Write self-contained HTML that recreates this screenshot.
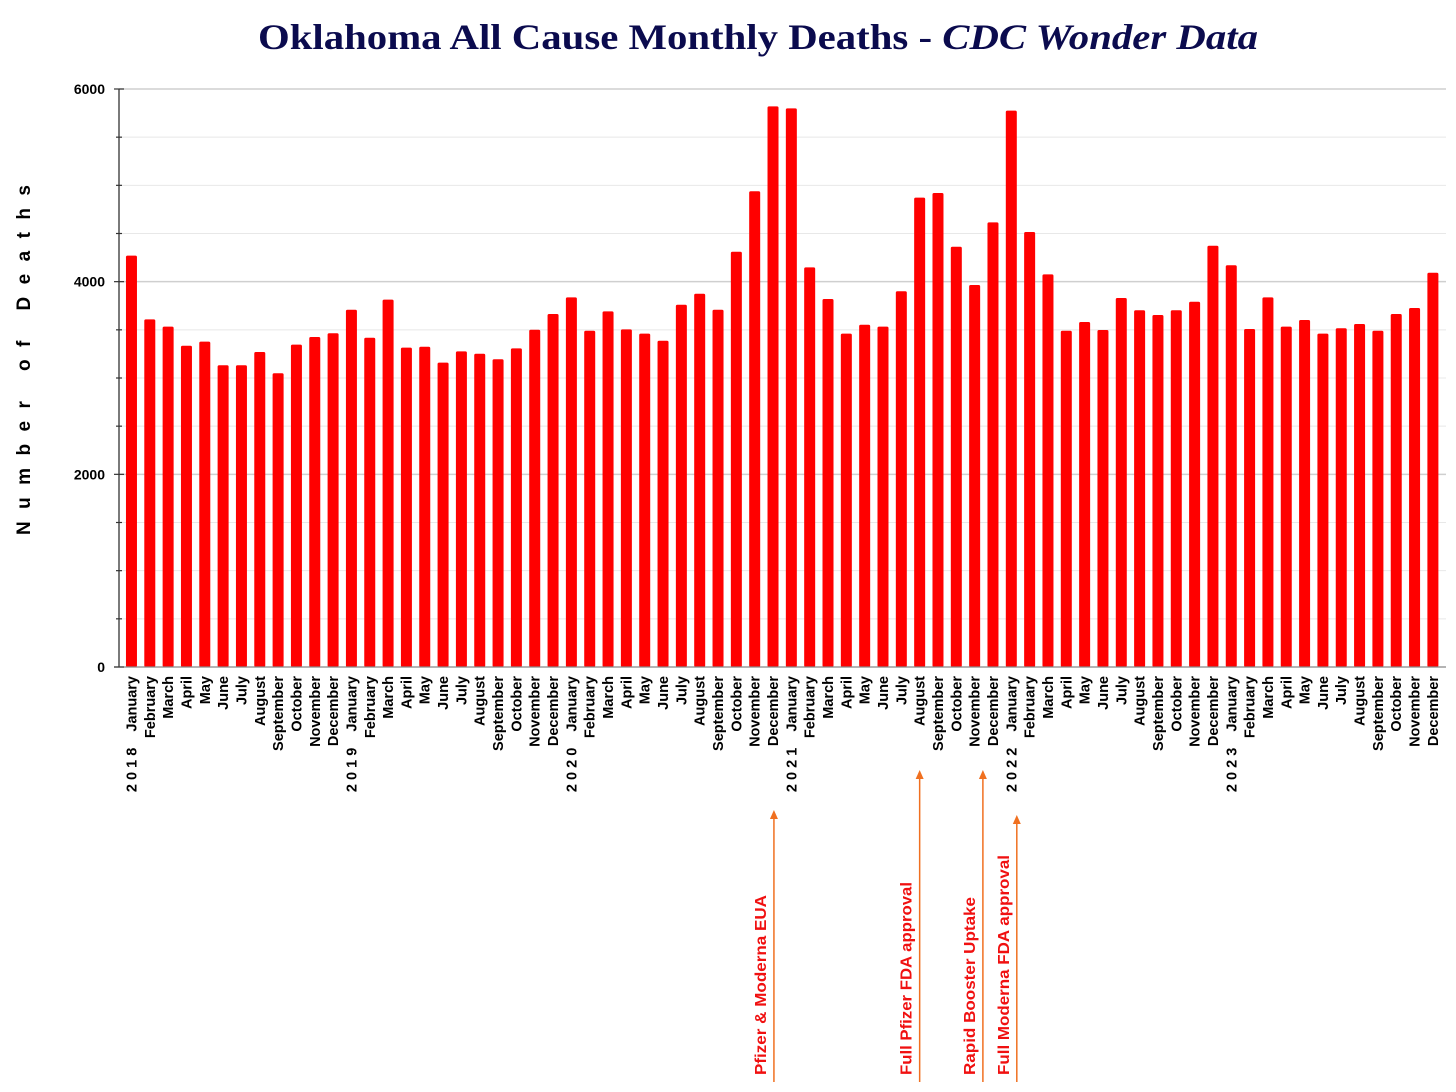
<!DOCTYPE html>
<html><head><meta charset="utf-8"><style>
html,body{margin:0;padding:0;background:#fff;}
svg{display:block;font-family:"Liberation Sans",Arial,sans-serif;}
</style></head><body>
<svg id="chart" width="1456" height="1092" viewBox="0 0 1456 1092" xmlns="http://www.w3.org/2000/svg">
<text x="258" y="49" textLength="1000" lengthAdjust="spacingAndGlyphs" font-family="'Liberation Serif',Georgia,serif" font-weight="bold" font-size="36" fill="#0b0b4e">Oklahoma All Cause Monthly Deaths - <tspan font-style="italic">CDC Wonder Data</tspan></text>
<text transform="translate(30,360) rotate(-90)" text-anchor="middle" font-weight="bold" font-size="19" textLength="350" lengthAdjust="spacing" fill="#000" style="white-space:pre">N u m b e r   o f   D e a t h s</text>
<g id="grid"></g>
<g id="bars"></g>
<g id="axes"></g>
<g id="xlabels"></g>
<g id="annots"></g>
</svg>
<script>
const months = ["January","February","March","April","May","June","July","August","September","October","November","December"];
const years = ["2018","2019","2020","2021","2022","2023"];
const deaths = [
4270,3609,3533,3335,3377,3132,3132,3270,3049,3346,3425,3464,
3709,3418,3813,3315,3325,3159,3277,3252,3194,3308,3501,3664,
3837,3491,3692,3505,3460,3387,3761,3875,3709,4311,4938,5820,
5799,4149,3820,3460,3553,3533,3900,4872,4920,4363,3965,4616,
5775,4515,4076,3491,3581,3498,3830,3703,3654,3703,3792,4373,
4170,3509,3837,3533,3602,3460,3516,3560,3491,3664,3726,4093];
const yTicks = [0,2000,4000,6000];
const annotLabels = ["Pfizer & Moderna EUA","Full Pfizer FDA approval","Rapid Booster Uptake","Full Moderna FDA approval"];
const annotIndex = [35.05,43.0,46.45,48.3];
const annotTop = [810,770,770,815];
const annotTextTop = [895,882,897,855];

const NS="http://www.w3.org/2000/svg";
const X0=122.3, SLOT=18.33, Y0=667, YMAX=6000, H=578;
const xc=i=>X0+(i+0.5)*SLOT;
const y=v=>Y0-v/YMAX*H;
function mk(tag,attrs,parent){const e=document.createElementNS(NS,tag);for(const k in attrs)e.setAttribute(k,attrs[k]);parent.appendChild(e);return e;}
const grid=document.getElementById('grid'),bars=document.getElementById('bars'),axes=document.getElementById('axes'),xl=document.getElementById('xlabels'),an=document.getElementById('annots');
for(let v=500;v<=YMAX;v+=500){
  const major=v%2000===0;
  const g=mk('line',{x1:119,x2:1446,y1:y(v),y2:y(v),stroke:major?'#cfcfcf':'#e8e8e8','stroke-width':major?1.5:1},grid);
  
  
}
deaths.forEach((d,i)=>{
  const r=mk('rect',{x:xc(i)-5.5,y:y(d),width:11,height:Y0-y(d),rx:1.5,fill:'#ff0000'},bars);
  
  
  const label=(i%12===0?years[i/12].split('').join(' ')+'    ':'')+months[i%12];
  const t=mk('text',{transform:`translate(${xc(i)+5},676) rotate(-90)`,'text-anchor':'end','font-size':14.5,'font-weight':'bold',fill:'#000'},xl);
  t.style.whiteSpace='pre';
  t.textContent=label;
  
  
});
const ax=mk('line',{x1:119,x2:119,y1:y(YMAX),y2:Y0,stroke:'#333','stroke-width':1.3},axes);


const bx=mk('line',{x1:114,x2:1446,y1:Y0,y2:Y0,stroke:'#888','stroke-width':1.3},axes);


for(let v=0;v<=YMAX;v+=500){
  const major=v%2000===0;
  const tk=mk('line',{x1:major?114:116,x2:major?124:122,y1:y(v),y2:y(v),stroke:'#333','stroke-width':1.2},axes);
  
  
}
yTicks.forEach(v=>{
  const t=mk('text',{x:105,y:y(v)+5,'text-anchor':'end','font-size':14,'font-weight':'bold',fill:'#000'},axes);
  t.textContent=v;
  
  
});
annotLabels.forEach((lab,k)=>{
  const ax_=xc(annotIndex[k]);
  const l=mk('line',{x1:ax_,x2:ax_,y1:1082,y2:annotTop[k]+8,stroke:'#f07020','stroke-width':1.5},an);
  
  
  const p=mk('polygon',{points:`${ax_},${annotTop[k]} ${ax_-4},${annotTop[k]+9} ${ax_+4},${annotTop[k]+9}`,fill:'#f07020'},an);
  
  
  const len=1075-annotTextTop[k];
  const t=mk('text',{transform:`translate(${ax_-8},1075) rotate(-90)`,'font-size':16,'font-weight':'bold',fill:'#f01010',textLength:len,lengthAdjust:'spacingAndGlyphs'},an);
  t.textContent=lab;
  
  
});
</script>
</body></html>
